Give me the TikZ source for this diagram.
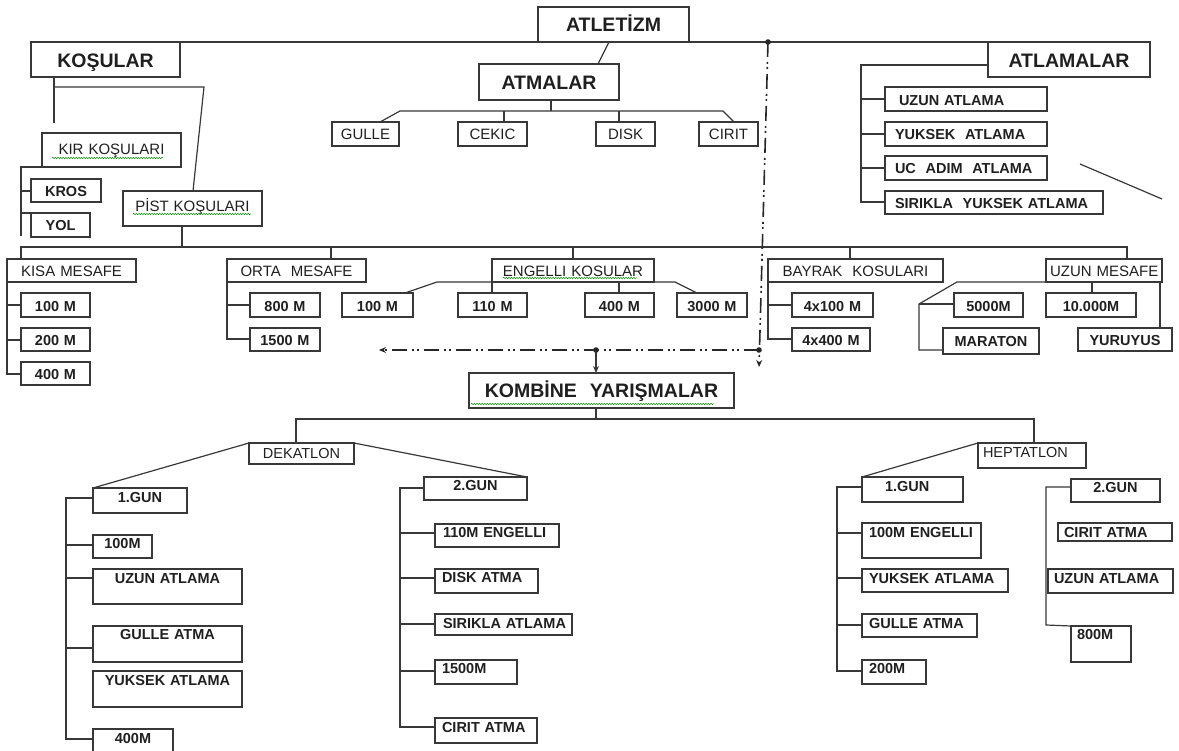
\documentclass[tikz,border=0pt]{standalone}
\usepackage{fontspec}
\setmainfont{Liberation Sans}
\usetikzlibrary{arrows.meta,decorations.pathmorphing}
\newcommand\mkbox[8]{%
  \pgfmathsetmacro\bxw{#5-#3}%
  \pgfmathsetmacro\bxh{#6-#4}%
  \pgfmathsetmacro\bxd{\bxh-#7}%
  \pgfmathsetmacro\bxt{\bxw-8}%
  \node[box,#1,text width=\bxt pt,text height=#7pt,text depth=\bxd pt] (#2) at (#3,#4) {\mbox{#8}};%
}
\tikzset{
  box/.style={draw=black!78, line width=1.2pt, anchor=north west, inner xsep=4pt, inner ysep=0pt, outer sep=0pt, align=center, text=black!88},
  la/.style={align=left},
  hdr/.style={font=\fontsize{19.5}{22}\selectfont\bfseries},
  lb/.style={font=\fontsize{15}{17}\selectfont},
  nb/.style={font=\fontsize{14.5}{17}\selectfont},
  bl/.style={font=\fontsize{14.5}{17}\selectfont\bfseries},
  ln/.style={draw=black!78, line width=1.2pt},
  dd/.style={draw=black!85, line width=1.6pt, dash pattern=on 15pt off 5pt on 2pt off 3pt on 2pt off 5pt},
  squig/.style={draw=green!55!black, line width=0.5pt, decorate, decoration={snake, amplitude=0.7pt, segment length=2.6pt}},
  tip/.style={-{Stealth[length=7pt,width=6pt]}}
}
\begin{document}
\begin{tikzpicture}[x=1pt,y=-1pt]
\useasboundingbox (0,0) rectangle (1179,751);
\clip (0,0) rectangle (1179,751);
% ---------------- top level
\mkbox{hdr}{atletizm}{538}{7}{689}{42}{25}{ATLETİZM}
\mkbox{hdr}{kosular}{31}{42}{180}{77}{26}{KOŞULAR}
\mkbox{hdr}{atmalar}{479}{64}{619}{100}{26}{ATMALAR}
\mkbox{hdr}{atlamalar}{988}{42}{1150}{77}{26}{ATLAMALAR}
\mkbox{lb}{gulle}{332}{122}{399}{146}{18}{GULLE}
\mkbox{lb}{cekic}{458}{122}{527}{146}{18}{CEKIC}
\mkbox{lb}{disk}{596}{122}{655}{146}{18}{DISK}
\mkbox{lb}{cirit}{699}{122}{758}{146}{18}{CIRIT}
\mkbox{bl,la}{a1}{885}{87}{1047}{111}{19}{\hspace*{10pt}UZUN ATLAMA}
\mkbox{bl,la}{a2}{885}{122}{1047}{146}{18}{\hspace*{6pt}YUKSEK\ \ ATLAMA}
\mkbox{bl,la}{a3}{885}{156}{1047}{180}{18}{\hspace*{6pt}UC\ \ ADIM\ \ ATLAMA}
\mkbox{bl,la}{a4}{885}{191}{1103}{214}{18}{\hspace*{6pt}SIRIKLA\ \ YUKSEK ATLAMA}
\mkbox{lb}{kir}{42}{133}{181}{167}{22}{KIR KOŞULARI}
\mkbox{bl}{kros}{31}{179}{101}{202}{18}{KROS}
\mkbox{bl}{yol}{31}{213}{90}{237}{18}{YOL}
\mkbox{lb}{pist}{123}{191}{262}{226}{21}{PİST KOŞULARI}
% ---------------- row 2
\mkbox{lb}{kisa}{7}{259}{136}{282}{18}{KISA MESAFE}
\mkbox{bl}{k100}{21}{293}{90}{317}{19}{100 M}
\mkbox{bl}{k200}{21}{328}{90}{351}{18}{200 M}
\mkbox{bl}{k400}{21}{362}{90}{385}{18}{400 M}
\mkbox{lb}{orta}{227}{259}{366}{282}{18}{ORTA\ \ MESAFE}
\mkbox{bl}{o800}{250}{293}{320}{317}{19}{800 M}
\mkbox{bl}{o1500}{250}{328}{320}{351}{18}{1500 M}
\mkbox{lb}{engelli}{492}{259}{654}{282}{18}{ENGELLI KOSULAR}
\mkbox{bl}{e100}{342}{293}{413}{317}{19}{100 M}
\mkbox{bl}{e110}{458}{293}{527}{317}{19}{110 M}
\mkbox{bl}{e400}{585}{293}{654}{317}{19}{400 M}
\mkbox{bl}{e3000}{677}{293}{747}{317}{19}{3000 M}
\mkbox{lb}{bayrak}{768}{259}{943}{282}{18}{BAYRAK\ \ KOSULARI}
\mkbox{bl}{b100}{792}{293}{873}{317}{19}{4x100 M}
\mkbox{bl}{b400}{792}{328}{870}{351}{18}{4x400 M}
\mkbox{lb}{uzunm}{1046}{259}{1162}{282}{18}{UZUN MESAFE}
\mkbox{bl}{m5000}{954}{293}{1023}{317}{19}{5000M}
\mkbox{bl}{m10}{1046}{293}{1136}{317}{19}{10.000M}
\mkbox{bl}{maraton}{943}{328}{1039}{354}{19}{MARATON}
\mkbox{bl}{yuruyus}{1078}{328}{1172}{351}{18}{YURUYUS}
\mkbox{hdr}{kombine}{469}{373}{734}{408}{25}{KOMBİNE\ \ YARIŞMALAR}
% ---------------- bottom
\mkbox{nb}{dekatlon}{249}{443}{354}{464}{16}{DEKATLON}
\mkbox{nb,la}{heptatlon}{978}{443}{1086}{468}{14}{\hspace*{1pt}HEPTATLON}
\mkbox{bl}{d1}{93}{488}{187}{513}{14}{1.GUN}
\mkbox{bl}{d100}{93}{535}{152}{558}{13}{100M}
\mkbox{bl}{duzun}{93}{569}{242}{604}{14}{UZUN ATLAMA}
\mkbox{bl}{dgulle}{93}{626}{242}{662}{13}{GULLE ATMA}
\mkbox{bl}{dyuksek}{93}{671}{242}{707}{14}{YUKSEK ATLAMA}
\mkbox{bl}{d400}{93}{729}{173}{755}{14}{400M}
\mkbox{bl}{d2}{424}{477}{527}{500}{13}{2.GUN}
\mkbox{bl,la}{d110}{435}{524}{559}{547}{13}{\hspace*{4pt}110M ENGELLI}
\mkbox{bl,la}{ddisk}{435}{569}{538}{593}{13}{\hspace*{3pt}DISK ATMA}
\mkbox{bl,la}{dsirikla}{435}{614}{572}{635}{14}{\hspace*{4pt}SIRIKLA ATLAMA}
\mkbox{bl,la}{d1500}{435}{660}{517}{684}{13}{\hspace*{3pt}1500M}
\mkbox{bl,la}{dcirit}{435}{718}{537}{743}{14}{\hspace*{3pt}CIRIT ATMA}
\mkbox{bl,la}{h1}{862}{477}{963}{502}{14}{\hspace*{19pt}1.GUN}
\mkbox{bl,la}{h100}{862}{523}{981}{558}{14}{\hspace*{3pt}100M ENGELLI}
\mkbox{bl,la}{hyuksek}{862}{569}{1008}{592}{14}{\hspace*{3pt}YUKSEK ATLAMA}
\mkbox{bl,la}{hgulle}{862}{614}{977}{637}{14}{\hspace*{3pt}GULLE ATMA}
\mkbox{bl,la}{h200}{862}{660}{926}{684}{13}{\hspace*{3pt}200M}
\mkbox{bl}{h2}{1071}{479}{1160}{502}{13}{2.GUN}
\mkbox{bl,la}{hcirit}{1058}{523}{1172}{541}{14}{\hspace*{2pt}CIRIT ATMA}
\mkbox{bl,la}{huzun}{1048}{569}{1173}{593}{14}{\hspace*{2pt}UZUN ATLAMA}
\mkbox{bl,la}{h800}{1071}{626}{1131}{662}{13}{\hspace*{2pt}800M}
% ---------------- connectors: top
\draw[ln] (kosular.north east) -- (atlamalar.north west);
\draw[ln] (atletizm.south -| 609,0) -- (atmalar.north -| 598,0);
\draw[ln] (atmalar.south -| 551,0) -- (551,111);
\draw[ln] (gulle.north -| 380,0) -- (400,111) -- (723,111) -- (cirit.north -| 734,0);
\draw[ln] (504,111) -- (cekic.north -| 504,0);
\draw[ln] (619,111) -- (disk.north -| 619,0);
\draw[ln] (atlamalar.west |- 0,65) -- (861,65) -- (861,202) -- (a4.west |- 0,202);
\draw[ln] (861,99) -- (a1.west |- 0,99);
\draw[ln] (861,134) -- (a2.west |- 0,134);
\draw[ln] (861,168) -- (a3.west |- 0,168);
\coordinate (s1) at (1080,164);
\coordinate (s2) at (1162,199);
\draw[ln] (s1) -- (s2);
% kosular
\draw[ln] (kosular.south -| 54,0) -- (54,123);
\draw[ln] (54,87) -- (204,87) -- (pist.north -| 193,0);
\draw[ln] (kir.south west) -- (21,167) -- (21,236);
\draw[ln] (21,191) -- (kros.west |- 0,191);
\draw[ln] (21,213) -- (yol.north west);
\draw[ln] (pist.south -| 182,0) -- (182,247);
% row 2
\draw[ln] (kisa.north -| 21,0) -- (21,247) -- (1127,247) -- (uzunm.north -| 1127,0);
\draw[ln] (331,247) -- (orta.north -| 331,0);
\draw[ln] (573,247) -- (engelli.north -| 573,0);
\draw[ln] (850,247) -- (bayrak.north -| 850,0);
\draw[ln] (kisa.south west) -- (7,374) -- (k400.west |- 0,374);
\draw[ln] (7,305) -- (k100.west |- 0,305);
\draw[ln] (7,340) -- (k200.west |- 0,340);
\draw[ln] (orta.south west) -- (227,339) -- (o1500.west |- 0,339);
\draw[ln] (227,305) -- (o800.west |- 0,305);
\draw[ln] (e100.north -| 405,0) -- (437,282) -- (675,282) -- (e3000.north -| 697,0);
\draw[ln] (engelli.south west) -- (e110.north -| 492,0);
\draw[ln] (619,282) -- (e400.north -| 619,0);
\draw[ln] (bayrak.south west) -- (768,339) -- (b400.west |- 0,339);
\draw[ln] (768,305) -- (b100.west |- 0,305);
\draw[ln] (uzunm.south west) -- (957,282) -- (919,304) -- (919,350) -- (maraton.west |- 0,350);
\draw[ln] (919,304) -- (m5000.west |- 0,304);
\draw[ln] (1092,282) -- (m10.north -| 1092,0);
\draw[ln] (1160,282) -- (yuruyus.north -| 1160,0);
% dash-dot links
\coordinate (dtop) at (768,42);
\coordinate (dright) at (759,350);
\coordinate (dbot) at (759,367);
\coordinate (dleft) at (379,350);
\coordinate (dmid) at (596,350);
\draw[dd,tip] (dtop) -- (dbot);
\draw[dd,tip] (dright) -- (dleft);
\draw[ln,tip] (dmid) -- (dmid |- kombine.north);
\fill[black!85] (dtop) circle (2.8pt);
\fill[black!85] (dright) circle (2.8pt);
\fill[black!85] (dmid) circle (2.8pt);
% bottom
\draw[ln] (kombine.south -| 596,0) -- (596,419);
\draw[ln] (dekatlon.north -| 296,0) -- (296,419) -- (1034,419) -- (heptatlon.north -| 1034,0);
\draw[ln] (dekatlon.north west) -- (d1.north west);
\draw[ln] (dekatlon.north east) -- (d2.north east);
\draw[ln] (d1.west |- 0,498) -- (66,498) -- (66,739) -- (d400.west |- 0,739);
\draw[ln] (66,545) -- (d100.west |- 0,545);
\draw[ln] (66,578) -- (duzun.west |- 0,578);
\draw[ln] (66,648) -- (dgulle.west |- 0,648);
\draw[ln] (d2.west |- 0,488) -- (400,488) -- (400,727) -- (dcirit.west |- 0,727);
\draw[ln] (400,533) -- (d110.west |- 0,533);
\draw[ln] (400,578) -- (ddisk.west |- 0,578);
\draw[ln] (400,624) -- (dsirikla.west |- 0,624);
\draw[ln] (400,671) -- (d1500.west |- 0,671);
\draw[ln] (heptatlon.north west) -- (h1.north west);
\draw[ln] (h1.west |- 0,487) -- (837,487) -- (837,671) -- (h200.west |- 0,671);
\draw[ln] (837,533) -- (h100.west |- 0,533);
\draw[ln] (837,578) -- (hyuksek.west |- 0,578);
\draw[ln] (837,625) -- (hgulle.west |- 0,625);
\draw[ln] (h2.west |- 0,487) -- (1046,487) -- (1046,625) -- (h800.north west);
\draw[black!80, line width=2.2pt] (hcirit.north west) -- ++(22,0);
\draw[black!80, line width=2.2pt] (huzun.north west) -- ++(22,0);
% spell-check squiggles
\draw[squig] (52,158) -- (163,158);
\draw[squig] (133,214) -- (251,214);
\draw[squig] (503,278) -- (637,278);
\draw[squig] (471,404) -- (714,404);
\end{tikzpicture}
\end{document}
